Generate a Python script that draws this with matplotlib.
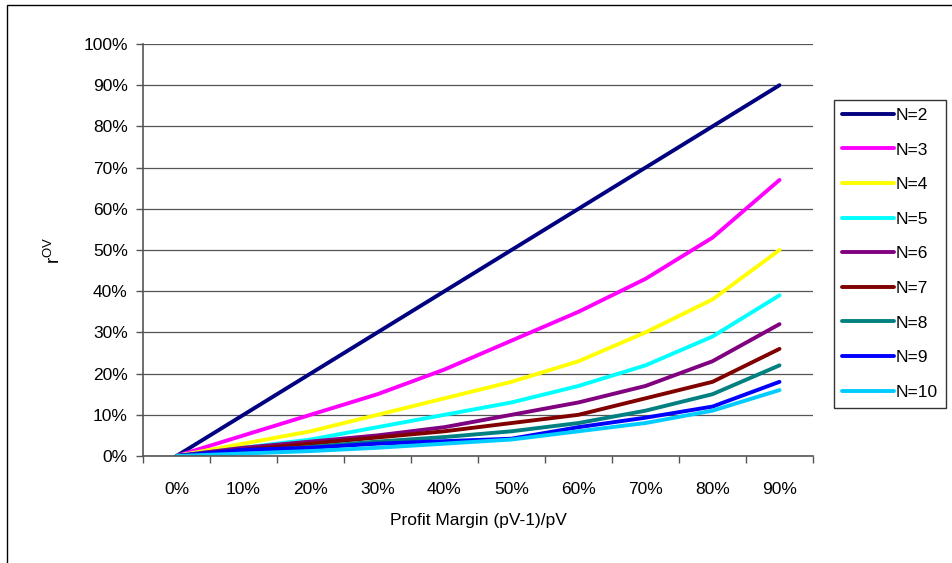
import matplotlib.pyplot as plt
from matplotlib.patches import Rectangle
from matplotlib.ticker import FixedLocator

plt.rcParams['font.family'] = ['Liberation Sans', 'DejaVu Sans']

margins = ['0%', '10%', '20%', '30%', '40%', '50%', '60%', '70%', '80%', '90%']

# r^OV (%) for each N
n2 = [0, 10, 20, 30, 40, 50, 60, 70, 80, 90]
n3 = [0, 5, 10, 15, 21, 28, 35, 43, 53, 67]
n4 = [0, 3, 6, 10, 14, 18, 23, 30, 38, 50]
n5 = [0, 2, 4, 7, 10, 13, 17, 22, 29, 39]
n6 = [0, 2, 3.5, 5, 7, 10, 13, 17, 23, 32]
n7 = [0, 1.5, 3, 4.5, 6, 8, 10, 14, 18, 26]
n8 = [0, 1, 2.2, 3.5, 4.6, 6, 8, 11, 15, 22]
n9 = [0, 1.5, 2, 3, 3.6, 4.2, 7, 9.3, 12, 18]
n10 = [0, 0.6, 1.2, 2, 3, 4, 6, 8, 11, 16]

series = [n2, n3, n4, n5, n6, n7, n8, n9, n10]
names = ['N=2', 'N=3', 'N=4', 'N=5', 'N=6', 'N=7', 'N=8', 'N=9', 'N=10']
colors = ['#000080', '#FF00FF', '#FFFF00', '#00FFFF', '#800080',
          '#800000', '#008080', '#0000FF', '#00CCFF']

fig = plt.figure(figsize=(9.53, 5.63), dpi=100)
ax = fig.add_axes([143/953, 1-456/563, 670/953, 412/563])

x = list(range(len(margins)))
for vals, name, col in zip(series, names, colors):
    ax.plot(x, vals, color=col, lw=2.8, label=name, solid_capstyle='round')

ax.set_xlim(-0.5, 9.5)
ax.set_ylim(0, 100)
ax.set_yticks(range(0, 101, 10))
ax.set_yticklabels([f'{v}%' for v in range(0, 101, 10)])
ax.set_xticks(x)
ax.set_xticklabels(margins)
ax.xaxis.set_minor_locator(FixedLocator([i - 0.5 for i in range(11)]))
ax.tick_params(axis='x', which='major', length=0, pad=19, labelsize=12.5)
ax.tick_params(axis='x', which='minor', length=5, color='#555555', width=1)
ax.tick_params(axis='y', length=5, color='#555555', width=1, labelsize=12.5, pad=6)
ax.grid(axis='y', color='#555555', lw=0.9)
ax.set_axisbelow(True)
for s in ['top', 'right']:
    ax.spines[s].set_visible(False)
for s in ['left', 'bottom']:
    ax.spines[s].set_color('#555555')
    ax.spines[s].set_linewidth(1.2)

ax.set_xlabel('Profit Margin (pV-1)/pV', fontsize=12.5, labelpad=11)
ax.set_ylabel(r'$\mathregular{r^{OV}}$', fontsize=13.5, labelpad=14)

leg = ax.legend(loc='upper left', bbox_to_anchor=(834/953, 1-100/563),
                bbox_transform=fig.transFigure, frameon=True, fancybox=False,
                edgecolor='black', fontsize=12.5, handlelength=3.0,
                handletextpad=0.1, labelspacing=1.12, borderpad=0.45,
                borderaxespad=0)
leg.get_frame().set_linewidth(1)

fig.patches.append(Rectangle((7/953, -0.1), 2, 1 - 5/563 + 0.1,
                             transform=fig.transFigure, fill=False,
                             edgecolor='black', lw=1))

fig.savefig('out.png', dpi=100)
